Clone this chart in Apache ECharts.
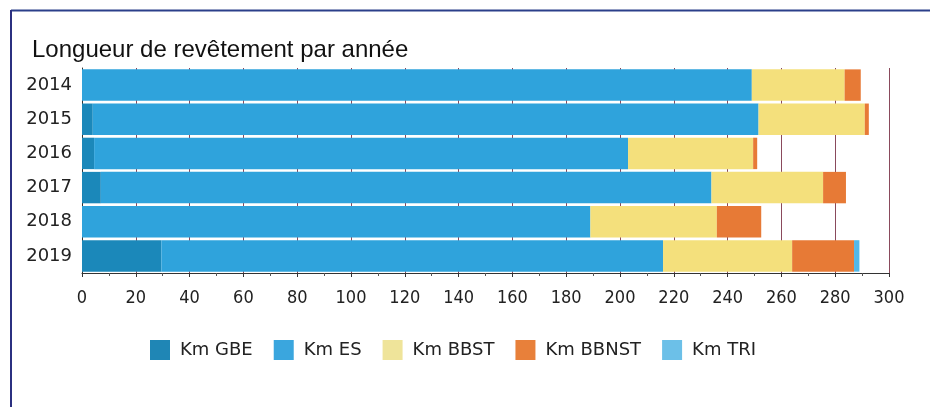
<!DOCTYPE html>
<html><head><meta charset="utf-8">
<script src="https://cdn.jsdelivr.net/npm/echarts@6/dist/echarts.min.js"></script>
<style>html,body{margin:0;padding:0;background:#fff}#c{width:930px;height:407px}</style>
</head><body><div id="c"></div>
<script>
const years = ['2014','2015','2016','2017','2018','2019'];
const kmGBE   = [0, 4, 4.5, 7, 0, 29.5];
const kmES    = [249, 247.5, 198.5, 227, 189, 186.5];
const kmBBST  = [34.5, 39.5, 46.5, 41.5, 47, 48];
const kmBBNST = [6, 1.5, 1.5, 8.5, 16.5, 23];
const kmTRI   = [0, 0, 0, 0, 0, 2];
const xTicks = [0,20,40,60,80,100,120,140,160,180,200,220,240,260,280,300];

const chart = echarts.init(document.getElementById('c'), null, {renderer:'canvas'});
function s(name, data, color){
  return {name, type:'bar', stack:'t', data, barCategoryGap:'8%',
    itemStyle:{color}, emphasis:{disabled:true}};
}
chart.setOption({
  animation:false,
  title:{text:'Longueur de revêtement par année', left:27, top:33,
    textStyle:{fontFamily:'"Liberation Sans", Arial, sans-serif', fontSize:24, fontWeight:'normal', color:'#111'}},
  graphic:[
    {type:'line', shape:{x1:11,y1:10.5,x2:930,y2:10.5}, style:{stroke:'#2b3f8a', lineWidth:2}},
    {type:'line', shape:{x1:11,y1:10,x2:11,y2:407}, style:{stroke:'#2b3080', lineWidth:2}}
  ],
  legend:{left:145, top:335, itemWidth:20, itemHeight:20, itemGap:21, icon:'rect',
    textStyle:{fontFamily:'"DejaVu Sans", Verdana, sans-serif', fontSize:18, color:'#222', padding:[0,0,0,5]},
    data:[
      {name:'Km GBE', itemStyle:{color:'#1f86b5'}},
      {name:'Km ES', itemStyle:{color:'#3aa6de'}},
      {name:'Km BBST', itemStyle:{color:'#efe49a'}},
      {name:'Km BBNST', itemStyle:{color:'#e8803a'}},
      {name:'Km TRI', itemStyle:{color:'#6cc0e8'}}
    ]},
  grid:{left:82, right:41, top:68, bottom:134},
  xAxis:{type:'value', min:0, max:300, interval:20,
    axisLine:{show:true, lineStyle:{color:'#333'}},
    axisTick:{show:true, length:4, lineStyle:{color:'#333'}},
    minorTick:{show:true, splitNumber:2, length:3, lineStyle:{color:'#555'}},
    splitLine:{show:true, lineStyle:{color:'#8a4a5c', width:1}},
    axisLabel:{margin:16, fontSize:18, color:'#222',
      fontFamily:'"DejaVu Sans Condensed", "Liberation Sans Narrow", sans-serif',
      formatter: v => xTicks.includes(v) ? String(v) : ''}},
  yAxis:{type:'category', data:years, inverse:true,
    axisLine:{show:true, lineStyle:{color:'#333'}},
    axisTick:{show:false},
    axisLabel:{margin:10, fontSize:18, color:'#222', fontFamily:'"DejaVu Sans", Verdana, sans-serif'}},
  series:[
    s('Km GBE', kmGBE, '#1b88ba'),
    s('Km ES', kmES, '#2fa3dc'),
    s('Km BBST', kmBBST, '#f4e07c'),
    s('Km BBNST', kmBBNST, '#e77a36'),
    s('Km TRI', kmTRI, '#52b8e8')
  ]
});
</script></body></html>
